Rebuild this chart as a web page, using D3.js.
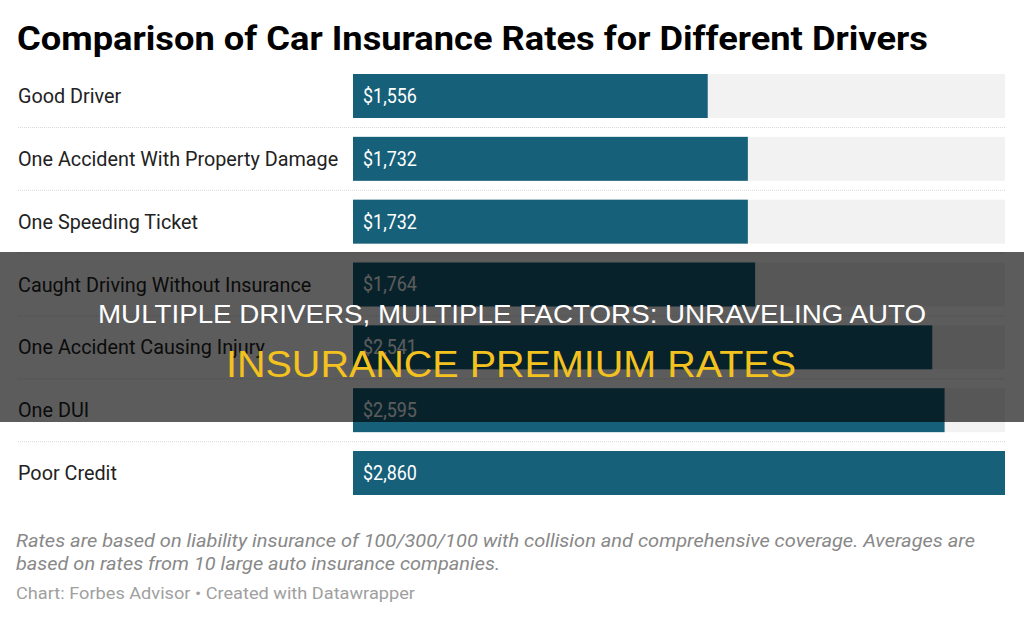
<!DOCTYPE html>
<html><head><meta charset="utf-8">
<script src="https://cdn.jsdelivr.net/npm/d3@7"></script>
<style>body{margin:0;background:#fff}svg{display:block}</style>
</head><body>
<svg id="c" width="1024" height="621"></svg>
<script>
const categories = ["Good Driver","One Accident With Property Damage","One Speeding Ticket","Caught Driving Without Insurance","One Accident Causing Injury","One DUI","Poor Credit"];
const values = [1556,1732,1732,1764,2541,2595,2860];
const title = "Comparison of Car Insurance Rates for Different Drivers";
const notes = ["Rates are based on liability insurance of 100/300/100 with collision and comprehensive coverage. Averages are","based on rates from 10 large auto insurance companies."];
const credit = "Chart: Forbes Advisor \u2022 Created with Datawrapper";
const overlayLines = ["MULTIPLE DRIVERS, MULTIPLE FACTORS: UNRAVELING AUTO","INSURANCE PREMIUM RATES"];

const svg = d3.select("#c");
const x = d3.scaleLinear().domain([0, d3.max(values)]).range([353, 1005]);
const y = d3.scaleBand().domain(categories).range([74, 495]).paddingInner(0.3).paddingOuter(0);
const fmt = d3.format("$,");

svg.append("text").attr("x",17).attr("y",50).attr("font-family","Roboto").attr("font-weight",700)
  .attr("font-size",34).attr("fill","#000").attr("textLength",911).attr("lengthAdjust","spacingAndGlyphs").text(title);

const row = svg.append("g").selectAll("g").data(categories).join("g");
row.append("rect").attr("x",x(0)).attr("y",d=>y(d)).attr("width",x.range()[1]-x(0)).attr("height",y.bandwidth()).attr("fill","#f2f2f2");
row.append("rect").attr("x",x(0)).attr("y",d=>y(d)).attr("width",(d,i)=>x(values[i])-x(0)).attr("height",y.bandwidth()).attr("fill","#17607a");
row.append("text").attr("x",18).attr("y",d=>y(d)+y.bandwidth()/2+7).attr("font-family","Roboto").attr("font-size",19.8).attr("fill","#222").text(d=>d);
row.append("text").attr("x",363).attr("y",d=>y(d)+y.bandwidth()/2+7).attr("font-family","Roboto").attr("font-size",19.5)
  .attr("fill","#fff").attr("transform",(d)=>`translate(363,0) scale(0.92,1) translate(-363,0)`).text((d,i)=>fmt(values[i]));
row.filter((d,i)=>i<categories.length-1).append("line").attr("x1",18).attr("x2",1005)
  .attr("y1",d=>y(d)+y.bandwidth()+9.5).attr("y2",d=>y(d)+y.bandwidth()+9.5)
  .attr("stroke","#d8d8d8").attr("stroke-width",1).attr("stroke-dasharray","1,1");

svg.append("text").selectAll("tspan").data(notes).join("tspan").attr("x",16).attr("y",(d,i)=>547+i*23)
  .attr("font-family","Roboto").attr("font-style","italic").attr("font-size",18).attr("fill","#888")
  .attr("textLength",(d,i)=>i===0?959:484).attr("lengthAdjust","spacingAndGlyphs").text(d=>d);
svg.append("text").attr("x",16).attr("y",599).attr("font-family","Roboto").attr("font-size",17).attr("fill","#a0a0a0")
  .attr("textLength",399).attr("lengthAdjust","spacingAndGlyphs").text(credit);

// overlay banner
svg.append("rect").attr("x",0).attr("y",252).attr("width",1024).attr("height",170).attr("fill","rgba(0,0,0,0.64)");
svg.append("text").attr("x",98).attr("y",323).attr("font-family","Liberation Sans").attr("font-size",26).attr("fill","#fff")
  .attr("textLength",828).attr("lengthAdjust","spacingAndGlyphs").text(overlayLines[0]);
svg.append("text").attr("x",226).attr("y",377).attr("font-family","Liberation Sans").attr("font-size",36).attr("fill","#f4c21f")
  .attr("textLength",570).attr("lengthAdjust","spacingAndGlyphs").text(overlayLines[1]);
</script>
</body></html>
